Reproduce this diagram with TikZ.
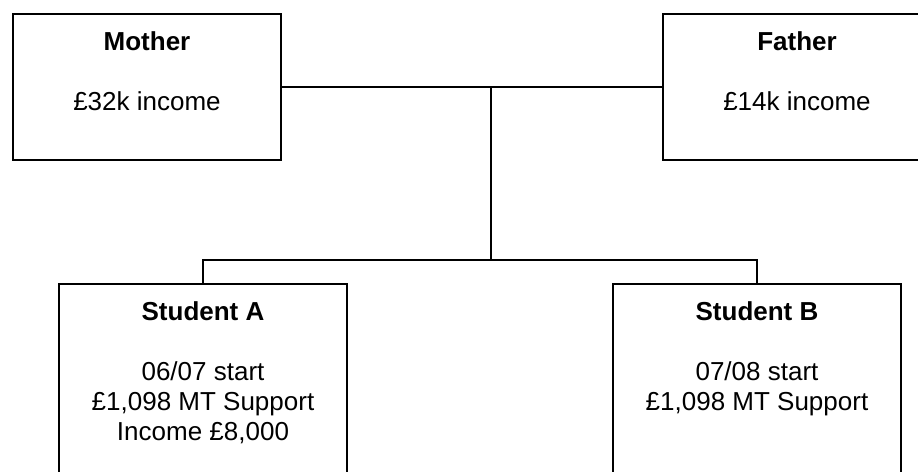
\documentclass[tikz,border=0pt]{standalone}
\usepackage{fontspec}
\setmainfont{Liberation Sans}
\usetikzlibrary{calc}
\begin{document}
\begin{tikzpicture}[x=0.5pt,y=-0.5pt,
    famBox/.style={draw,line width=1pt,rectangle,inner sep=0pt,anchor=north west},
    famText/.style={anchor=north,align=center,inner sep=0pt,font=\fontsize{13}{15}\selectfont},
    famLine/.style={line width=0.8pt}]
  \useasboundingbox(0,0)rectangle(918,472);
  \clip(0,0)rectangle(918,472);
  % parents
  \node[famBox,minimum width=134pt,minimum height=73pt](mother)at(12,13){};
  \node[famBox,minimum width=134pt,minimum height=73pt](father)at(662,13){};
  \node[famText]at($(mother.north)+(0,18)$){\textbf{Mother}\\[15pt]£32k income};
  \node[famText]at($(father.north)+(0,18)$){\textbf{Father}\\[15pt]£14k income};
  % students
  \node[famBox,minimum width=144pt,minimum height=120pt](studA)at(58,283){};
  \node[famBox,minimum width=144pt,minimum height=120pt](studB)at(612,283){};
  \node[famText]at($(studA.north)+(0,18)$){\textbf{Student A}\\[15pt]06/07 start\\£1,098 MT Support\\Income £8,000};
  \node[famText]at($(studB.north)+(0,18)$){\textbf{Student B}\\[15pt]07/08 start\\£1,098 MT Support};
  % connectors
  \coordinate(join)at(491,87);
  \coordinate(split)at(491,260);
  \draw[famLine](mother.east)--(father.west);
  \draw[famLine](join)--(split);
  \draw[famLine](studA.north)|-(split)-|(studB.north);
\end{tikzpicture}
\end{document}
